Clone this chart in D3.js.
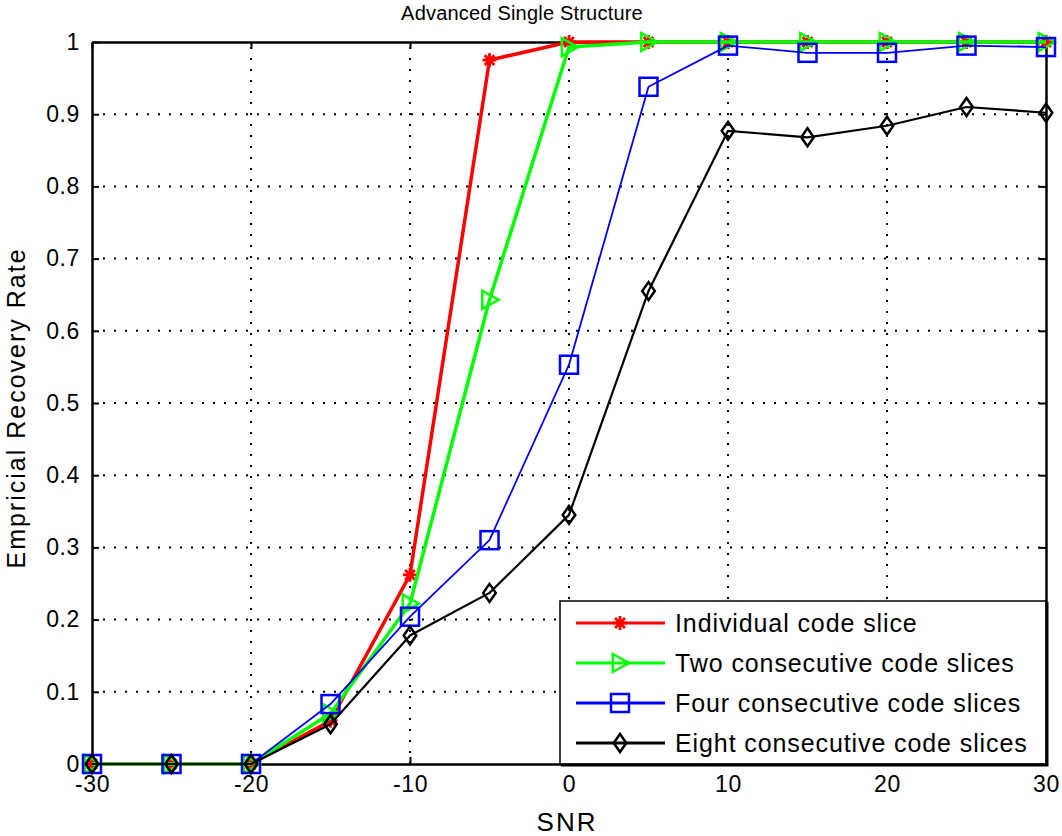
<!DOCTYPE html>
<html>
<head>
  <meta charset="utf-8" />
  <title>Advanced Single Structure</title>
  <style>
    body { margin: 0; background: #fff; }
    svg { display: block; font-family: "Liberation Sans", Arial, sans-serif; }
  </style>
</head>
<body>
  <svg id="svg" width="1062" height="836"></svg>
  <script src="https://d3js.org/d3.v7.min.js"></script>
  <script>
    const snr = [-30, -25, -20, -15, -10, -5, 0, 5, 10, 15, 20, 25, 30]
    const individual = [0, 0, 0, 0.06, 0.262, 0.975, 1, 1, 1, 1, 1, 1, 1]
    const twoSlices = [0, 0, 0, 0.07, 0.222, 0.643, 0.993, 1, 1, 1, 1, 1, 1]
    const fourSlices = [0, 0, 0, 0.083, 0.204, 0.31, 0.553, 0.938, 0.995, 0.985, 0.985, 0.995, 0.993]
    const eightSlices = [0, 0, 0, 0.055, 0.178, 0.237, 0.345, 0.655, 0.877, 0.868, 0.884, 0.91, 0.902]
    const xTicks = [-30, -20, -10, 0, 10, 20, 30]
    const yTicks = [0, 0.1, 0.2, 0.3, 0.4, 0.5, 0.6, 0.7, 0.8, 0.9, 1]

    const series = [
      { name: 'Individual code slice', values: individual, color: '#ff0000', width: 3.5, marker: 'star' },
      { name: 'Two consecutive code slices', values: twoSlices, color: '#00ff00', width: 3.5, marker: 'tri' },
      { name: 'Four consecutive code slices', values: fourSlices, color: '#0000ff', width: 1.8, marker: 'square' },
      { name: 'Eight consecutive code slices', values: eightSlices, color: '#000000', width: 2.2, marker: 'diamond' }
    ]

    const plotLeft = 92, plotRight = 1046, plotTop = 42, plotBottom = 764
    const x = d3.scaleLinear().domain([-30, 30]).range([plotLeft, plotRight])
    const y = d3.scaleLinear().domain([0, 1]).range([plotBottom, plotTop])

    const svg = d3.select('#svg')

    // grid
    const grid = svg.append('g').attr('stroke', '#000').attr('stroke-width', 2)
      .attr('stroke-dasharray', '2,9').attr('stroke-linecap', 'butt')
    xTicks.slice(1, -1).forEach(t => {
      grid.append('line').attr('x1', x(t)).attr('x2', x(t)).attr('y1', plotBottom).attr('y2', plotTop)
    })
    yTicks.slice(1, -1).forEach(t => {
      grid.append('line').attr('x1', plotLeft).attr('x2', plotRight).attr('y1', y(t)).attr('y2', y(t))
    })

    // axes (plain hyphen for negatives, like the original)
    const fmt = d => String(d)
    const xAxis = d3.axisBottom(x).tickValues(xTicks).tickSizeInner(-7).tickSizeOuter(0).tickPadding(12).tickFormat(fmt)
    const yAxis = d3.axisLeft(y).tickValues(yTicks).tickSizeInner(-7).tickSizeOuter(0).tickPadding(12).tickFormat(fmt)
    const xTop = d3.axisTop(x).tickValues(xTicks).tickSizeInner(-7).tickSizeOuter(0).tickFormat('')
    const yRight = d3.axisRight(y).tickValues(yTicks).tickSizeInner(-7).tickSizeOuter(0).tickFormat('')

    function styleAxis(g) {
      g.select('.domain').attr('stroke-width', 2.5)
      g.selectAll('.tick line').attr('stroke-width', 2)
      g.selectAll('.tick text').attr('font-size', 23).attr('letter-spacing', 0.6).attr('fill', '#000')
        .attr('font-family', '"Liberation Sans", Arial, sans-serif')
    }
    svg.append('g').attr('transform', `translate(0,${plotBottom})`).call(xAxis).call(styleAxis)
    svg.append('g').attr('transform', `translate(${plotLeft},0)`).call(yAxis).call(styleAxis)
    svg.append('g').attr('transform', `translate(0,${plotTop})`).call(xTop).call(styleAxis)
    svg.append('g').attr('transform', `translate(${plotRight},0)`).call(yRight).call(styleAxis)

    // markers
    function drawMarker(g, type, color, cx, cy, s) {
      if (type === 'star') {
        const p = g.append('g').attr('stroke', color).attr('stroke-width', 2.8)
        p.append('line').attr('x1', cx).attr('x2', cx).attr('y1', cy - s).attr('y2', cy + s)
        p.append('line').attr('x1', cx - s).attr('x2', cx + s).attr('y1', cy).attr('y2', cy)
        p.append('line').attr('x1', cx - s * 0.7).attr('x2', cx + s * 0.7).attr('y1', cy - s * 0.7).attr('y2', cy + s * 0.7)
        p.append('line').attr('x1', cx - s * 0.7).attr('x2', cx + s * 0.7).attr('y1', cy + s * 0.7).attr('y2', cy - s * 0.7)
      } else if (type === 'tri') {
        g.append('path').attr('d', `M${cx - s * 0.8},${cy - s}L${cx + s},${cy}L${cx - s * 0.8},${cy + s}Z`)
          .attr('fill', 'none').attr('stroke', color).attr('stroke-width', 2.5)
      } else if (type === 'square') {
        g.append('rect').attr('x', cx - s).attr('y', cy - s).attr('width', 2 * s).attr('height', 2 * s)
          .attr('fill', 'none').attr('stroke', color).attr('stroke-width', 2.5)
      } else {
        g.append('path').attr('d', `M${cx},${cy - s}L${cx + s * 0.7},${cy}L${cx},${cy + s}L${cx - s * 0.7},${cy}Z`)
          .attr('fill', 'none').attr('stroke', color).attr('stroke-width', 2.5)
      }
    }
    const markerSize = { star: 7, tri: 9, square: 9, diamond: 9 }

    const line = d3.line().x((d, i) => x(snr[i])).y(d => y(d))
    series.forEach(s => {
      const g = svg.append('g')
      g.append('path').datum(s.values).attr('d', line).attr('fill', 'none')
        .attr('stroke', s.color).attr('stroke-width', s.width).attr('stroke-linejoin', 'round')
      s.values.forEach((v, i) => drawMarker(g, s.marker, s.color, x(snr[i]), y(v), markerSize[s.marker]))
    })

    // legend
    const lg = svg.append('g')
    lg.append('rect').attr('x', 560).attr('y', 601).attr('width', 486).attr('height', 163)
      .attr('fill', '#fff').attr('stroke', '#000').attr('stroke-width', 1.5)
    lg.append('path').attr('d', 'M1047,602V765H561').attr('fill', 'none').attr('stroke', '#000').attr('stroke-width', 3)
    series.forEach((s, i) => {
      const ly = 623 + i * 40
      lg.append('line').attr('x1', 576).attr('x2', 665).attr('y1', ly).attr('y2', ly)
        .attr('stroke', s.color).attr('stroke-width', 3)
      drawMarker(lg, s.marker, s.color, 620, ly, markerSize[s.marker])
      lg.append('text').attr('x', 675).attr('y', ly + 9).attr('font-size', 25)
        .attr('letter-spacing', 0.9).text(s.name)
    })

    // labels
    svg.append('text').attr('x', 522).attr('y', 20).attr('text-anchor', 'middle')
      .attr('font-size', 20).attr('letter-spacing', 0.2).text('Advanced Single Structure')
    svg.append('text').attr('x', 567).attr('y', 831).attr('text-anchor', 'middle')
      .attr('font-size', 26).attr('letter-spacing', 2).text('SNR')
    svg.append('text').attr('transform', 'translate(25,408) rotate(-90)').attr('text-anchor', 'middle')
      .attr('font-size', 25).attr('letter-spacing', 2).text('Empricial Recovery Rate')
  </script>
</body>
</html>
